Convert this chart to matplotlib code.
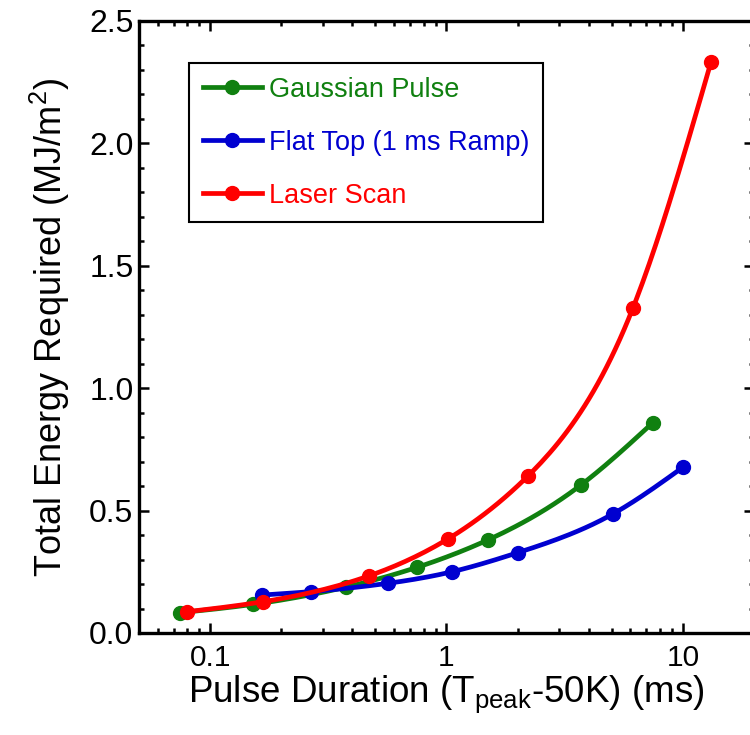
import numpy as np
import matplotlib
matplotlib.use('Agg')
import matplotlib.pyplot as plt

# values (x in ms, y in MJ/m^2)
gauss_x = [0.0747, 0.152, 0.374, 0.749, 1.495, 3.71, 7.46]
gauss_y = [0.083, 0.117, 0.187, 0.268, 0.380, 0.605, 0.859]

flat_x = [0.166, 0.266, 0.565, 1.053, 2.00, 5.05, 10.0]
flat_y = [0.155, 0.169, 0.203, 0.250, 0.328, 0.486, 0.677]

laser_x = [0.080, 0.168, 0.469, 1.013, 2.21, 6.14, 13.17]
laser_y = [0.087, 0.128, 0.233, 0.384, 0.641, 1.326, 2.334]

labels = ['Gaussian Pulse', 'Flat Top (1 ms Ramp)', 'Laser Scan']
colors = ['#108010', '#0000d0', '#ff0000']

plt.rcParams['font.family'] = ['Liberation Sans', 'DejaVu Sans']
plt.rcParams['mathtext.fontset'] = 'custom'
plt.rcParams['mathtext.rm'] = 'Liberation Sans'
plt.rcParams['mathtext.it'] = 'Liberation Sans:italic'


def smooth(xs, ys, n=25):
    # natural cubic spline through the points in log-x space (for the line only)
    x = np.log10(xs)
    y = np.asarray(ys, float)
    k = len(x)
    h = np.diff(x)
    A = np.zeros((k, k))
    b = np.zeros(k)
    A[0, 0] = A[-1, -1] = 1
    for i in range(1, k - 1):
        A[i, i - 1] = h[i - 1]
        A[i, i] = 2 * (h[i - 1] + h[i])
        A[i, i + 1] = h[i]
        b[i] = 6 * ((y[i + 1] - y[i]) / h[i] - (y[i] - y[i - 1]) / h[i - 1])
    m = np.linalg.solve(A, b)
    out_x, out_y = [], []
    for i in range(k - 1):
        t = np.linspace(x[i], x[i + 1], n)
        a = x[i + 1] - t
        c = t - x[i]
        s = (m[i] * a ** 3 + m[i + 1] * c ** 3) / (6 * h[i]) \
            + (y[i] / h[i] - m[i] * h[i] / 6) * a + (y[i + 1] / h[i] - m[i + 1] * h[i] / 6) * c
        out_x.extend(t)
        out_y.extend(s)
    return 10 ** np.array(out_x), np.array(out_y)


fig = plt.figure(figsize=(7.5, 7.35), dpi=100)
ax = fig.add_axes([139 / 750, 102 / 735, 615 / 750, 612 / 735])

series = [(gauss_x, gauss_y), (flat_x, flat_y), (laser_x, laser_y)]
for (xs, ys), lab, c in zip(series, labels, colors):
    sx, sy = smooth(xs, ys)
    ax.plot(sx, sy, color=c, lw=3.4, solid_capstyle='round')
    ax.plot(xs, ys, 'o', color=c, ms=10)
    ax.plot([], [], '-o', color=c, lw=3.4, ms=10, label=lab)

ax.set_xscale('log')
ax.set_xlim(0.05, 20)
ax.set_ylim(0, 2.5)
ax.set_yticks(np.arange(0, 2.51, 0.5))
ax.set_yticks(np.arange(0, 2.51, 0.1), minor=True)
ax.set_xticks([0.1, 1, 10])
ax.set_xticklabels(['0.1', '1', '10'])
ax.set_yticklabels(['%.1f' % v for v in np.arange(0, 2.51, 0.5)])

for s in ax.spines.values():
    s.set_linewidth(2.4)
ax.tick_params(which='both', direction='in', top=True, right=True)
ax.tick_params(which='major', length=7, width=1.8)
ax.tick_params(which='minor', length=3.6, width=1.8)
ax.tick_params(axis='x', which='major', pad=8, labelsize=21.5)
ax.tick_params(axis='y', which='major', pad=4, labelsize=23)

ax.set_xlabel('Pulse Duration (T$_{\\rm peak}$-50K) (ms)', fontsize=26.5, labelpad=1)
ax.set_ylabel('Total Energy Required (MJ/m$^2$)', fontsize=26, labelpad=12)

leg = ax.legend(loc='upper left', bbox_to_anchor=(0.0813, 0.931), borderaxespad=0,
                fontsize=19.5, handlelength=2.2, handletextpad=0.25, borderpad=0.5,
                labelspacing=1.0, fancybox=False, framealpha=1, numpoints=1)
leg.get_frame().set_edgecolor('black')
leg.get_frame().set_linewidth(1.5)
for txt, c in zip(leg.get_texts(), colors):
    txt.set_color(c)

fig.savefig('out.png', dpi=100)
